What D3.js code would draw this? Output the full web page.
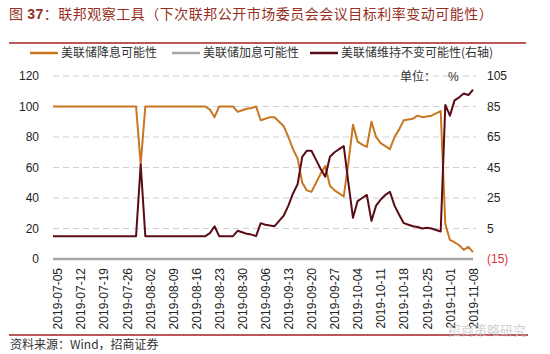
<!DOCTYPE html>
<html>
<head>
<meta charset="utf-8">
<script src="https://cdn.jsdelivr.net/npm/d3@7"></script>
<style>
  body { margin: 0; background: #fff; }
  svg { display: block; }
</style>
</head>
<body>
<div class="canvas"></div>
<script>
// weekly tick labels (Fridays)
const tickLabels = ['2019-07-05','2019-07-12','2019-07-19','2019-07-26','2019-08-02','2019-08-09',
  '2019-08-16','2019-08-23','2019-08-30','2019-09-06','2019-09-13','2019-09-20','2019-09-27',
  '2019-10-04','2019-10-11','2019-10-18','2019-10-25','2019-11-01','2019-11-08'];

// probability of a cut (left axis, %)
const cutProb = [
  100,100,100,100,100,100,100,100,100,100,100,100,100,100,100,100,100,100,100,62,
  100,100,100,100,100,100,100,100,100,100,100,100,100,100,98,93,100,100,100,100,
  96.5,97.5,98.5,99,100,91,92,93,93,90,87,80,72,66,50,45,44,50,56,61,
  48,45,43,41,63,88,77,75,73.5,90,80,76,74,72,80,85,91,91.5,92,94,
  93,93.5,94,95.5,97,23,12.5,11,9,6,8,4.5
];

// probability of a hike (left axis, %)
const hikeProb = [
  0,0,0,0,0,0,0,0,0,0,0,0,0,0,0,0,0,0,0,0,
  0,0,0,0,0,0,0,0,0,0,0,0,0,0,0,0,0,0,0,0,
  0,0,0,0,0,0,0,0,0,0,0,0,0,0,0,0,0,0,0,0,
  0,0,0,0,0,0,0,0,0,0,0,0,0,0,0,0,0,0,0,0,
  0,0,0,0,0,0,0,0,0,0,0,0
];

// probability of no change (right axis, %)
const holdProb = [
  0,0,0,0,0,0,0,0,0,0,0,0,0,0,0,0,0,0,0,47,
  0,0,0,0,0,0,0,0,0,0,0,0,0,0,2,6.5,0,0,0,0,
  3.5,2.5,1.5,1,0,8.5,7.5,7,6.5,10,13.5,20,28,34,52,56,56,50,44,39,
  52,55,57,59,35,12,23,25,27,10,20,24,27,29,20,14,8.5,7.5,6.5,6,
  5,5.5,5,4,3,86,79,89,91,93.5,92.5,96
];

const leftTicks = [0, 20, 40, 60, 80, 100, 120];
const rightTicks = [-15, 5, 25, 45, 65, 85, 105];

// trading days (weekdays, without Jul 4)
const fmt = d3.timeFormat('%Y-%m-%d');
const days = d3.timeDay.range(new Date(2019, 6, 3), new Date(2019, 10, 9))
  .filter(d => d.getDay() !== 0 && d.getDay() !== 6)
  .map(fmt)
  .filter(s => s !== '2019-07-04');

const W = 550, H = 354;
const cjk = '"Noto Sans CJK SC", sans-serif';
const latin = '"Liberation Sans", Arial, sans-serif';

const svg = d3.select('.canvas')
  .append('svg')
    .attr('width', W)
    .attr('height', H);

// title
const title = svg.append('text')
  .attr('x', 9)
  .attr('y', 19)
  .attr('fill', '#953023')
  .style('font-family', cjk)
  .style('font-size', '14px')
  .style('letter-spacing', '0.5px');
title.append('tspan').text('图 ');
title.append('tspan').style('font-weight', 'bold').style('font-family', latin).text('37');
title.append('tspan').text('：联邦观察工具（下次联邦公开市场委员会会议目标利率变动可能性）');

svg.append('line')
  .attr('x1', 9).attr('x2', 526).attr('y1', 43).attr('y2', 43)
  .attr('stroke', '#a31f24').attr('stroke-width', 1.5);

// scales
const plotLeft = 53, plotRight = 473, plotTop = 76, plotBottom = 259;

const x = d3.scalePoint()
  .domain(days)
  .range([plotLeft, plotRight]);

const yLeft = d3.scaleLinear()
  .domain([0, 120])
  .range([plotBottom, plotTop]);

const yRight = d3.scaleLinear()
  .domain([-15, 105])
  .range([plotBottom, plotTop]);

// gridlines
svg.append('g')
  .selectAll('line')
  .data(leftTicks.filter(t => t > 0))
  .enter()
  .append('line')
    .attr('x1', plotLeft)
    .attr('x2', plotRight + 3)
    .attr('y1', d => yLeft(d))
    .attr('y2', d => yLeft(d))
    .attr('stroke', '#cfcfcf')
    .attr('stroke-dasharray', '6,4');

// axes
const yAxisLeft = svg.append('g')
  .attr('transform', `translate(${plotLeft},0)`)
  .call(d3.axisLeft(yLeft).tickValues(leftTicks).tickSize(0).tickPadding(14));

const yAxisRight = svg.append('g')
  .attr('transform', `translate(${plotRight},0)`)
  .call(d3.axisRight(yRight).tickValues(rightTicks).tickSize(0).tickPadding(14)
    .tickFormat(d => d < 0 ? `(${-d})` : d));

const xAxis = svg.append('g')
  .attr('transform', `translate(0,${plotBottom})`)
  .call(d3.axisBottom(x).tickValues(tickLabels).tickSize(0));

[yAxisLeft, yAxisRight, xAxis].forEach(g => {
  g.select('.domain').remove();
  g.selectAll('text')
    .attr('fill', '#222')
    .style('font-family', latin)
    .style('font-size', '12px');
});

yAxisRight.selectAll('text')
  .filter(d => d < 0)
  .attr('fill', '#e0313b');

xAxis.selectAll('text')
  .attr('transform', 'rotate(-90)')
  .attr('text-anchor', 'end')
  .attr('x', -9)
  .attr('y', 0)
  .attr('dy', '0.35em');

// unit label
svg.append('text')
  .attr('x', 400).attr('y', 81)
  .attr('fill', '#333')
  .style('font-family', cjk).style('font-size', '12px')
  .text('单位：');
svg.append('text')
  .attr('x', 448).attr('y', 81)
  .attr('fill', '#333')
  .style('font-family', latin).style('font-size', '12px')
  .text('%');

// lines
const lineLeft = d3.line()
  .x((d, i) => x(days[i]))
  .y(d => yLeft(d));

const lineRight = d3.line()
  .x((d, i) => x(days[i]))
  .y(d => yRight(d));

svg.append('path')
  .datum(hikeProb)
  .attr('d', lineLeft)
  .attr('fill', 'none')
  .attr('stroke', '#a6a6a6')
  .attr('stroke-width', 2.5);

svg.append('path')
  .datum(cutProb)
  .attr('d', lineLeft)
  .attr('fill', 'none')
  .attr('stroke', '#c8761f')
  .attr('stroke-width', 2)
  .attr('stroke-linejoin', 'round');

svg.append('path')
  .datum(holdProb)
  .attr('d', lineRight)
  .attr('fill', 'none')
  .attr('stroke', '#5a0c16')
  .attr('stroke-width', 2)
  .attr('stroke-linejoin', 'round');

// legend
const legendItems = [
  {label: '美联储降息可能性', color: '#c8761f', x: 30},
  {label: '美联储加息可能性', color: '#a6a6a6', x: 172},
  {label: '美联储维持不变可能性(右轴)', color: '#5a0c16', x: 310}
];

const legend = svg.append('g')
  .selectAll('g')
  .data(legendItems)
  .enter()
  .append('g')
    .attr('transform', d => `translate(${d.x},53)`);

legend.append('line')
  .attr('x1', 0).attr('x2', 28)
  .attr('stroke', d => d.color)
  .attr('stroke-width', 2.5);

legend.append('text')
  .attr('x', 31)
  .attr('y', 4.3)
  .attr('fill', '#333')
  .style('font-family', cjk)
  .style('font-size', '12px')
  .text(d => d.label);

// source + bottom rule
svg.append('line')
  .attr('x1', 9).attr('x2', 528).attr('y1', 335).attr('y2', 335)
  .attr('stroke', '#a31f24').attr('stroke-width', 1.5);

svg.append('text')
  .attr('x', 10).attr('y', 349)
  .attr('fill', '#333')
  .style('font-family', cjk)
  .style('font-size', '12px')
  .text('资料来源：Wind，招商证券');

// faint watermark
svg.append('text')
  .attr('x', 448).attr('y', 335)
  .attr('fill', '#c8c8c8')
  .attr('opacity', 0.8)
  .style('font-family', cjk)
  .style('font-size', '13px')
  .text('招商策略研究');
</script>
</body>
</html>
